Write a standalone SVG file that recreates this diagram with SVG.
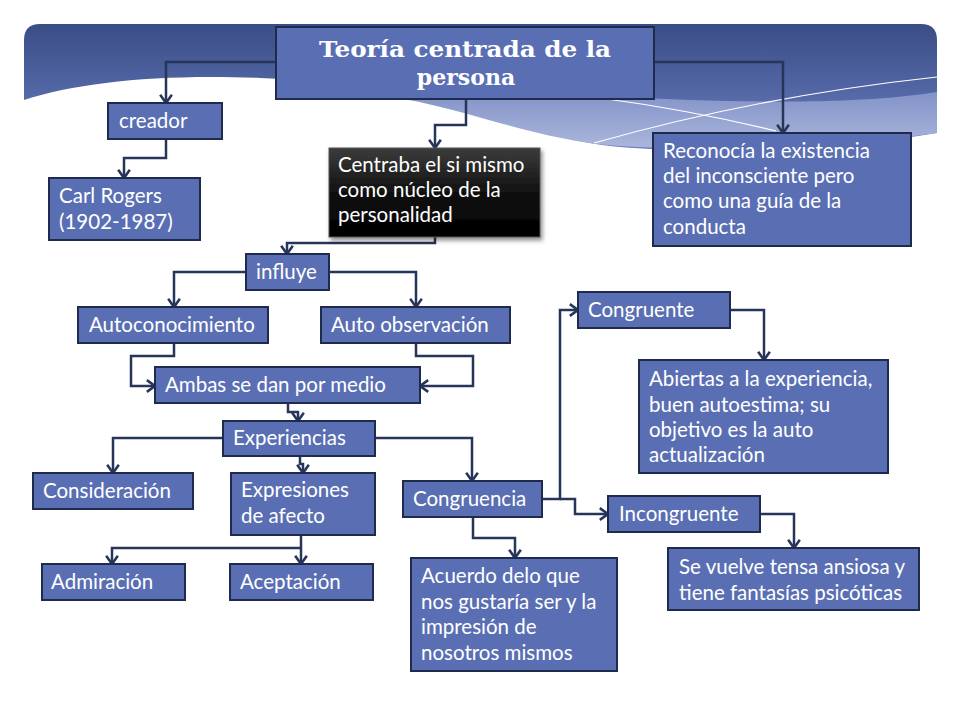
<svg xmlns="http://www.w3.org/2000/svg" width="960" height="720" viewBox="0 0 960 720">
<defs>
<linearGradient id="hdr" x1="0" y1="0" x2="0" y2="1">
<stop offset="0" stop-color="#3a4d86"/>
<stop offset="0.5" stop-color="#5165a3"/>
<stop offset="1" stop-color="#7384bf"/>
</linearGradient>
<linearGradient id="pale" x1="0" y1="0" x2="0" y2="1">
<stop offset="0" stop-color="#8393c8"/>
<stop offset="1" stop-color="#aab6db"/>
</linearGradient>
<linearGradient id="blk" x1="0" y1="0" x2="0" y2="1">
<stop offset="0" stop-color="#3c3c3c"/>
<stop offset="0.5" stop-color="#111"/>
<stop offset="1" stop-color="#000"/>
</linearGradient>
<filter id="sh" x="-10%" y="-10%" width="130%" height="130%">
<feDropShadow dx="2" dy="3" stdDeviation="2" flood-color="#000" flood-opacity="0.45"/>
</filter>
<marker id="arr" markerUnits="userSpaceOnUse" markerWidth="14" markerHeight="14" refX="9" refY="6" orient="auto" viewBox="0 0 12 12">
<path d="M2,1 L9,6 L2,11" fill="none" stroke="#27355a" stroke-width="2.2"/>
</marker>
</defs>
<style>
.box{fill:#5a6fb3;stroke:#1e2b4d;stroke-width:2}
.t{font-family:Lato,"Open Sans",sans-serif;font-size:20.5px;fill:#ffffff}
.ttl{font-family:"DejaVu Serif","Liberation Serif",serif;font-weight:bold;font-size:22px;fill:#ffffff}
.ca{fill:none;stroke:#27355a;stroke-width:2.5;marker-end:url(#arr)}
</style>
<rect width="960" height="720" fill="#ffffff"/>
<g id="background">
<path d="M24,40 Q24,24 40,24 H921 Q937,24 937,40 V133 C850,147 750,153 650,149 C570,146 530,128 490,113 C430,94 350,81 260,78 C160,74 80,82 24,100 Z" fill="url(#hdr)"/>
<path d="M385,96 C470,108 530,140 620,146 C720,152 850,145 937,133 V92 C850,106 720,102 620,97 C520,93 450,92 385,96 Z" fill="url(#pale)"/>
<path d="M600,98 Q690,110 776,131" fill="none" stroke="#ffffff" stroke-width="1.2"/>
<path d="M594,143 Q760,96 937,77" fill="none" stroke="#ffffff" stroke-width="1.2"/>
</g>
<g id="connectors">
<path class="ca" d="M275,62 H166 V103"/>
<path class="ca" d="M166,139 V158 H124 V178"/>
<path class="ca" d="M466,99 V125 H435 V148"/>
<path class="ca" d="M654,62 H783 V133"/>
<path class="ca" d="M435,237 V243 H287 V254"/>
<path class="ca" d="M246,272 H174 V307"/>
<path class="ca" d="M329,272 H416 V307"/>
<path class="ca" d="M174,343 V356 H131 V386 H155"/>
<path class="ca" d="M416,343 V356 H473 V386 H420"/>
<path class="ca" d="M288,403 V412 H298 V421"/>
<path class="ca" d="M223,438 H113 V473"/>
<path class="ca" d="M300,456 V464 H303 V473"/>
<path class="ca" d="M375,438 H472 V481"/>
<path class="ca" d="M301,535 V564"/>
<path class="ca" d="M301,548 H112 V564"/>
<path class="ca" d="M473,517 V538 H515 V558"/>
<path class="ca" d="M542,499 H560 V310 H578"/>
<path class="ca" d="M560,499 H575 V514 H608"/>
<path class="ca" d="M730,310 H764 V360"/>
<path class="ca" d="M760,514 H794 V548"/>
</g>
<g id="n-title">
<rect class="box" x="276" y="27" width="378" height="72"/>
<text class="ttl" x="465" y="57" text-anchor="middle" textLength="292" lengthAdjust="spacingAndGlyphs">Teoría centrada de la</text>
<text class="ttl" x="466" y="85" text-anchor="middle">persona</text>
</g>
<g id="n-creador">
<rect class="box" x="108" y="103" width="114" height="36"/>
<text class="t" x="119" y="128">creador</text>
</g>
<g id="n-carl">
<rect class="box" x="49" y="178" width="151" height="62"/>
<text class="t" x="59" y="203">Carl Rogers</text>
<text class="t" x="59" y="229">(1902-1987)</text>
</g>
<g id="n-centraba">
<rect x="329" y="148" width="211" height="89" fill="url(#blk)" stroke="#555" stroke-width="1" filter="url(#sh)"/>
<text class="t" x="338" y="172">Centraba el si mismo</text>
<text class="t" x="338" y="197">como núcleo de la</text>
<text class="t" x="338" y="222">personalidad</text>
</g>
<g id="n-reconocia">
<rect class="box" x="653" y="133" width="258" height="113"/>
<text class="t" x="663" y="158">Reconocía la existencia</text>
<text class="t" x="663" y="183">del inconsciente pero</text>
<text class="t" x="663" y="208">como una guía de la</text>
<text class="t" x="663" y="234">conducta</text>
</g>
<g id="n-influye">
<rect class="box" x="246" y="254" width="83" height="36"/>
<text class="t" x="256" y="279">influye</text>
</g>
<g id="n-autocon">
<rect class="box" x="78" y="307" width="190" height="36"/>
<text class="t" x="89" y="332">Autoconocimiento</text>
</g>
<g id="n-autoobs">
<rect class="box" x="321" y="307" width="189" height="36"/>
<text class="t" x="331" y="332">Auto observación</text>
</g>
<g id="n-ambas">
<rect class="box" x="155" y="367" width="265" height="36"/>
<text class="t" x="165" y="392">Ambas se dan por medio</text>
</g>
<g id="n-experiencias">
<rect class="box" x="223" y="421" width="152" height="35"/>
<text class="t" x="233" y="445">Experiencias</text>
</g>
<g id="n-consideracion">
<rect class="box" x="33" y="473" width="160" height="36"/>
<text class="t" x="43" y="498">Consideración</text>
</g>
<g id="n-expresiones">
<rect class="box" x="231" y="473" width="144" height="62"/>
<text class="t" x="241" y="497">Expresiones</text>
<text class="t" x="241" y="523">de afecto</text>
</g>
<g id="n-admiracion">
<rect class="box" x="42" y="564" width="143" height="36"/>
<text class="t" x="51" y="589">Admiración</text>
</g>
<g id="n-aceptacion">
<rect class="box" x="230" y="564" width="143" height="36"/>
<text class="t" x="240" y="589">Aceptación</text>
</g>
<g id="n-congruencia">
<rect class="box" x="403" y="481" width="139" height="36"/>
<text class="t" x="413" y="506">Congruencia</text>
</g>
<g id="n-acuerdo">
<rect class="box" x="411" y="558" width="206" height="113"/>
<text class="t" x="421" y="583">Acuerdo delo que</text>
<text class="t" x="421" y="609">nos gustaría ser y la</text>
<text class="t" x="421" y="634">impresión de</text>
<text class="t" x="421" y="660">nosotros mismos</text>
</g>
<g id="n-congruente">
<rect class="box" x="578" y="292" width="152" height="36"/>
<text class="t" x="588" y="317">Congruente</text>
</g>
<g id="n-abiertas">
<rect class="box" x="639" y="360" width="249" height="113"/>
<text class="t" x="649" y="386">Abiertas a la experiencia,</text>
<text class="t" x="649" y="412">buen autoestima; su</text>
<text class="t" x="649" y="437">objetivo es la auto</text>
<text class="t" x="649" y="462">actualización</text>
</g>
<g id="n-incongruente">
<rect class="box" x="608" y="496" width="152" height="36"/>
<text class="t" x="619" y="521">Incongruente</text>
</g>
<g id="n-sevuelve">
<rect class="box" x="668" y="548" width="251" height="62"/>
<text class="t" x="679" y="574">Se vuelve tensa ansiosa y</text>
<text class="t" x="679" y="600">tiene fantasías psicóticas</text>
</g>
</svg>
